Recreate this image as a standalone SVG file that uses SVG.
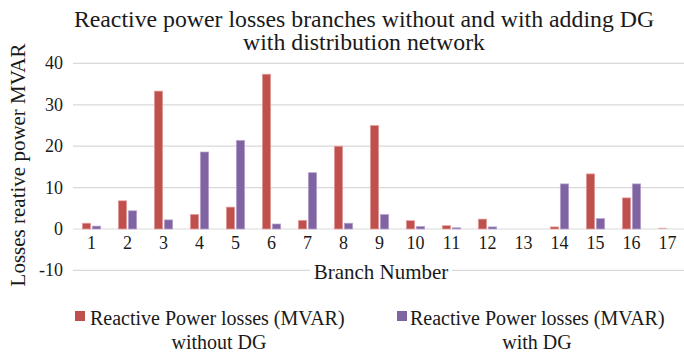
<svg xmlns="http://www.w3.org/2000/svg" width="684" height="353" viewBox="0 0 684 353" font-family="'Liberation Serif', 'DejaVu Serif', serif">
  <style>
    text { font-family: "Liberation Serif", "DejaVu Serif", serif; fill: #1a1a1a; }
    .title { font-size: 23.8px; text-anchor: middle; }
    .tick { font-size: 18px; text-anchor: end; }
    .cat { font-size: 18px; text-anchor: middle; }
    .axis { font-size: 21px; text-anchor: middle; }
    .leg { font-size: 20px; }
    .grid { stroke: #d9d9d9; stroke-width: 1.2; }
    .r { fill: #c0504d; stroke: #e3a3a1; stroke-width: 0.7; }
    .p { fill: #8064a2; stroke: #b7a5cf; stroke-width: 0.7; }
  </style>
  <rect width="684" height="353" fill="#ffffff"/>

  <!-- chart title -->
  <g id="title">
    <text class="title" x="364" y="26.5">Reactive power losses branches without and with adding DG</text>
    <text class="title" x="364" y="50">with distribution network</text>
  </g>

  <!-- horizontal gridlines -->
  <g id="gridlines">
    <line class="grid" x1="73" y1="63.4" x2="684" y2="63.4"/>
    <line class="grid" x1="73" y1="104.8" x2="684" y2="104.8"/>
    <line class="grid" x1="73" y1="146.2" x2="684" y2="146.2"/>
    <line class="grid" x1="73" y1="187.6" x2="684" y2="187.6"/>
    <line class="grid" x1="73" y1="229" x2="684" y2="229"/>
    <line class="grid" x1="73" y1="270.4" x2="684" y2="270.4"/>
  </g>

  <!-- value axis labels -->
  <g id="y-axis">
    <text class="tick" x="63" y="69.4">40</text>
    <text class="tick" x="63" y="110.8">30</text>
    <text class="tick" x="63" y="152.2">20</text>
    <text class="tick" x="63" y="193.6">10</text>
    <text class="tick" x="63" y="235">0</text>
    <text class="tick" x="63" y="276.4">-10</text>
    <text class="axis" transform="translate(25,165) rotate(-90)">Losses reative power MVAR</text>
  </g>

  <!-- series: without DG -->
  <g id="series-without-dg">
    <rect class="r" x="82.3" y="223.2" width="8.4" height="5.8"/>
    <rect class="r" x="118.3" y="200.8" width="8.4" height="28.2"/>
    <rect class="r" x="154.3" y="91.1" width="8.4" height="137.9"/>
    <rect class="r" x="190.3" y="214.5" width="8.4" height="14.5"/>
    <rect class="r" x="226.3" y="207.1" width="8.4" height="21.9"/>
    <rect class="r" x="262.3" y="74.2" width="8.4" height="154.8"/>
    <rect class="r" x="298.3" y="220.3" width="8.4" height="8.7"/>
    <rect class="r" x="334.3" y="146.2" width="8.4" height="82.8"/>
    <rect class="r" x="370.3" y="125.5" width="8.4" height="103.5"/>
    <rect class="r" x="406.3" y="220.7" width="8.4" height="8.3"/>
    <rect class="r" x="442.3" y="225.7" width="8.4" height="3.3"/>
    <rect class="r" x="478.3" y="219.1" width="8.4" height="9.9"/>
    <rect class="r" x="550.3" y="226.9" width="8.4" height="2.1"/>
    <rect class="r" x="586.3" y="173.9" width="8.4" height="55.1"/>
    <rect class="r" x="622.3" y="197.9" width="8.4" height="31.1"/>
    <rect x="658.3" y="227.8" width="8.4" height="1.2" fill="#e8a8a6"/>
  </g>

  <!-- series: with DG -->
  <g id="series-with-dg">
    <rect class="p" x="92.3" y="226.1" width="8.4" height="2.9"/>
    <rect class="p" x="128.3" y="210.8" width="8.4" height="18.2"/>
    <rect class="p" x="164.3" y="219.9" width="8.4" height="9.1"/>
    <rect class="p" x="200.3" y="152" width="8.4" height="77"/>
    <rect class="p" x="236.3" y="140.4" width="8.4" height="88.6"/>
    <rect class="p" x="272.3" y="224" width="8.4" height="5"/>
    <rect class="p" x="308.3" y="172.7" width="8.4" height="56.3"/>
    <rect class="p" x="344.3" y="223.2" width="8.4" height="5.8"/>
    <rect class="p" x="380.3" y="214.5" width="8.4" height="14.5"/>
    <rect class="p" x="416.3" y="226.5" width="8.4" height="2.5"/>
    <rect class="p" x="452.3" y="227.8" width="8.4" height="1.2"/>
    <rect class="p" x="488.3" y="226.9" width="8.4" height="2.1"/>
    <rect class="p" x="560.3" y="183.9" width="8.4" height="45.1"/>
    <rect class="p" x="596.3" y="218.6" width="8.4" height="10.4"/>
    <rect class="p" x="632.3" y="183.9" width="8.4" height="45.1"/>
  </g>

  <!-- category axis labels -->
  <g id="x-axis">
    <text class="cat" x="91.5" y="248.5">1</text>
    <text class="cat" x="127.5" y="248.5">2</text>
    <text class="cat" x="163.5" y="248.5">3</text>
    <text class="cat" x="199.5" y="248.5">4</text>
    <text class="cat" x="235.5" y="248.5">5</text>
    <text class="cat" x="271.5" y="248.5">6</text>
    <text class="cat" x="307.5" y="248.5">7</text>
    <text class="cat" x="343.5" y="248.5">8</text>
    <text class="cat" x="379.5" y="248.5">9</text>
    <text class="cat" x="415.5" y="248.5">10</text>
    <text class="cat" x="451.5" y="248.5">11</text>
    <text class="cat" x="487.5" y="248.5">12</text>
    <text class="cat" x="523.5" y="248.5">13</text>
    <text class="cat" x="559.5" y="248.5">14</text>
    <text class="cat" x="595.5" y="248.5">15</text>
    <text class="cat" x="631.5" y="248.5">16</text>
    <text class="cat" x="667.5" y="248.5">17</text>
    <rect x="310" y="260" width="142" height="22" fill="#ffffff"/>
    <text class="axis" x="381" y="279">Branch Number</text>
  </g>

  <!-- legend -->
  <g id="legend-without-dg">
    <rect x="75" y="311" width="10" height="10" fill="#c0504d"/>
    <text class="leg" x="90" y="325">Reactive Power losses (MVAR)</text>
    <text class="leg" x="219" y="349" text-anchor="middle">without DG</text>
  </g>
  <g id="legend-with-dg">
    <rect x="397" y="311" width="10" height="10" fill="#8064a2"/>
    <text class="leg" x="410" y="325">Reactive Power losses (MVAR)</text>
    <text class="leg" x="537" y="349" text-anchor="middle">with DG</text>
  </g>
</svg>
